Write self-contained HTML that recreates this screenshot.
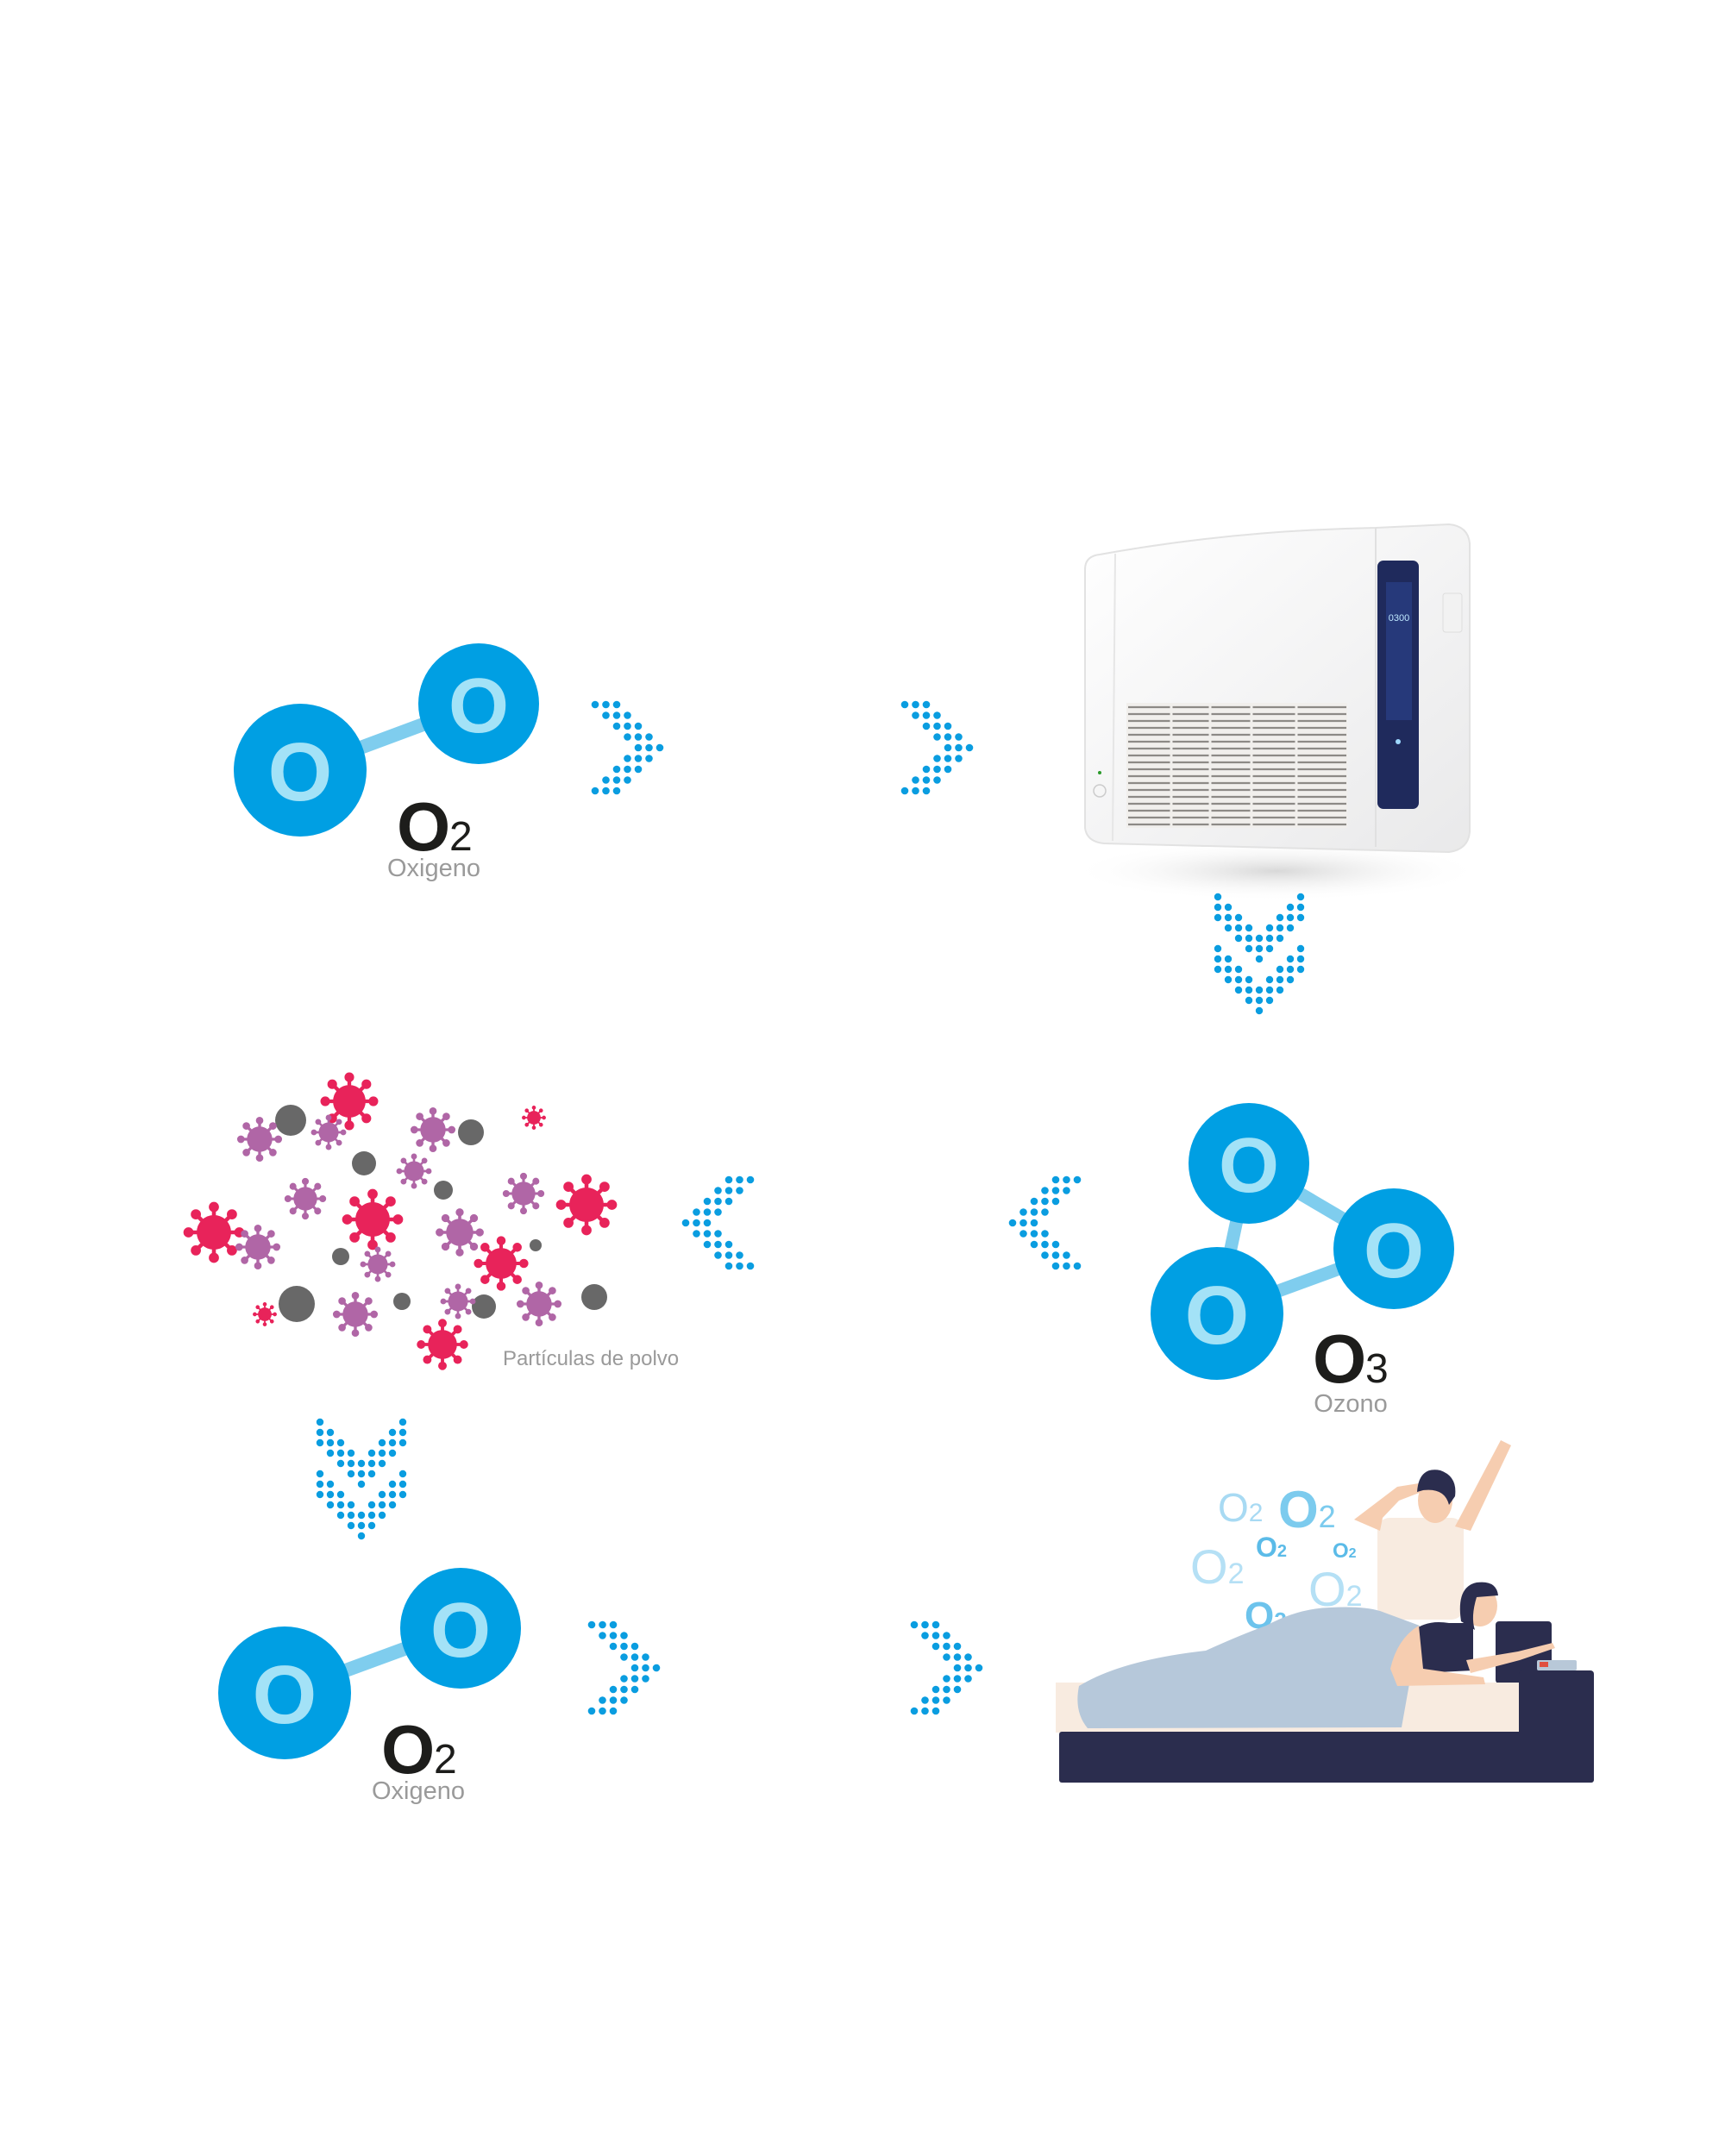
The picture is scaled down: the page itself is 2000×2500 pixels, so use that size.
<!DOCTYPE html>
<html><head><meta charset="utf-8"><style>html,body{margin:0;padding:0;background:#fff}svg{display:block}</style></head>
<body>
<svg width="2000" height="2500" viewBox="0 0 2000 2500" xmlns="http://www.w3.org/2000/svg">
<defs>
<g id="chr" fill="#0a9de0">
<circle cx="0" cy="0" r="4.3"/><circle cx="12.5" cy="0" r="4.3"/><circle cx="25" cy="0" r="4.3"/>
<circle cx="12.5" cy="12.5" r="4.3"/><circle cx="25" cy="12.5" r="4.3"/><circle cx="37.5" cy="12.5" r="4.3"/>
<circle cx="25" cy="25" r="4.3"/><circle cx="37.5" cy="25" r="4.3"/><circle cx="50" cy="25" r="4.3"/>
<circle cx="37.5" cy="37.5" r="4.3"/><circle cx="50" cy="37.5" r="4.3"/><circle cx="62.5" cy="37.5" r="4.3"/>
<circle cx="50" cy="50" r="4.3"/><circle cx="62.5" cy="50" r="4.3"/><circle cx="75" cy="50" r="4.3"/>
<circle cx="37.5" cy="62.5" r="4.3"/><circle cx="50" cy="62.5" r="4.3"/><circle cx="62.5" cy="62.5" r="4.3"/>
<circle cx="25" cy="75" r="4.3"/><circle cx="37.5" cy="75" r="4.3"/><circle cx="50" cy="75" r="4.3"/>
<circle cx="12.5" cy="87.5" r="4.3"/><circle cx="25" cy="87.5" r="4.3"/><circle cx="37.5" cy="87.5" r="4.3"/>
<circle cx="0" cy="100" r="4.3"/><circle cx="12.5" cy="100" r="4.3"/><circle cx="25" cy="100" r="4.3"/>
</g>
<g id="chd" fill="#0a9de0">
<circle cx="0" cy="0" r="4.2"/><circle cx="96" cy="0" r="4.2"/>
<circle cx="0" cy="12" r="4.2"/><circle cx="12" cy="12" r="4.2"/><circle cx="84" cy="12" r="4.2"/><circle cx="96" cy="12" r="4.2"/>
<circle cx="0" cy="24" r="4.2"/><circle cx="12" cy="24" r="4.2"/><circle cx="24" cy="24" r="4.2"/><circle cx="72" cy="24" r="4.2"/><circle cx="84" cy="24" r="4.2"/><circle cx="96" cy="24" r="4.2"/>
<circle cx="12" cy="36" r="4.2"/><circle cx="24" cy="36" r="4.2"/><circle cx="36" cy="36" r="4.2"/><circle cx="60" cy="36" r="4.2"/><circle cx="72" cy="36" r="4.2"/><circle cx="84" cy="36" r="4.2"/>
<circle cx="24" cy="48" r="4.2"/><circle cx="36" cy="48" r="4.2"/><circle cx="48" cy="48" r="4.2"/><circle cx="60" cy="48" r="4.2"/><circle cx="72" cy="48" r="4.2"/>
<circle cx="0" cy="60" r="4.2"/><circle cx="36" cy="60" r="4.2"/><circle cx="48" cy="60" r="4.2"/><circle cx="60" cy="60" r="4.2"/><circle cx="96" cy="60" r="4.2"/>
<circle cx="0" cy="72" r="4.2"/><circle cx="12" cy="72" r="4.2"/><circle cx="48" cy="72" r="4.2"/><circle cx="84" cy="72" r="4.2"/><circle cx="96" cy="72" r="4.2"/>
<circle cx="0" cy="84" r="4.2"/><circle cx="12" cy="84" r="4.2"/><circle cx="24" cy="84" r="4.2"/><circle cx="72" cy="84" r="4.2"/><circle cx="84" cy="84" r="4.2"/><circle cx="96" cy="84" r="4.2"/>
<circle cx="12" cy="96" r="4.2"/><circle cx="24" cy="96" r="4.2"/><circle cx="36" cy="96" r="4.2"/><circle cx="60" cy="96" r="4.2"/><circle cx="72" cy="96" r="4.2"/><circle cx="84" cy="96" r="4.2"/>
<circle cx="24" cy="108" r="4.2"/><circle cx="36" cy="108" r="4.2"/><circle cx="48" cy="108" r="4.2"/><circle cx="60" cy="108" r="4.2"/><circle cx="72" cy="108" r="4.2"/>
<circle cx="36" cy="120" r="4.2"/><circle cx="48" cy="120" r="4.2"/><circle cx="60" cy="120" r="4.2"/>
<circle cx="48" cy="132" r="4.2"/>
</g>
<g id="vshape">
<g stroke-width="2.4">
<line x1="0" y1="0" x2="15.5" y2="0"/><line x1="0" y1="0" x2="11" y2="11"/><line x1="0" y1="0" x2="0" y2="15.5"/><line x1="0" y1="0" x2="-11" y2="11"/>
<line x1="0" y1="0" x2="-15.5" y2="0"/><line x1="0" y1="0" x2="-11" y2="-11"/><line x1="0" y1="0" x2="0" y2="-15.5"/><line x1="0" y1="0" x2="11" y2="-11"/>
</g>
<circle r="10"/>
<circle cx="15.5" cy="0" r="2.6"/><circle cx="11" cy="11" r="2.6"/><circle cx="0" cy="15.5" r="2.6"/><circle cx="-11" cy="11" r="2.6"/>
<circle cx="-15.5" cy="0" r="2.6"/><circle cx="-11" cy="-11" r="2.6"/><circle cx="0" cy="-15.5" r="2.6"/><circle cx="11" cy="-11" r="2.6"/>
</g>
<g id="vr" fill="#e8235a" stroke="#e8235a"><use href="#vshape"/></g>
<g id="vp" fill="#b066a6" stroke="#b066a6"><use href="#vshape"/></g>
<linearGradient id="dev" x1="0" y1="0" x2="1" y2="1"><stop offset="0" stop-color="#ffffff"/><stop offset="1" stop-color="#e9e9ea"/></linearGradient>
<radialGradient id="shd" cx="0.5" cy="0.5" r="0.5"><stop offset="0" stop-color="#d8d8d8"/><stop offset="1" stop-color="#ffffff" stop-opacity="0"/></radialGradient>
</defs>

<!-- top O2 molecule -->
<line x1="348" y1="893" x2="555" y2="816" stroke="#7fcdee" stroke-width="16"/>
<circle cx="348" cy="893" r="77" fill="#009fe3"/>
<circle cx="555" cy="816" r="70" fill="#009fe3"/>
<g font-family="Liberation Sans, sans-serif" fill="#a3e2f7" text-anchor="middle" font-weight="bold">
<text x="348" y="928" font-size="96">O</text>
<text x="555" y="849" font-size="90">O</text>
</g>
<text x="460" y="986" font-family="Liberation Sans, sans-serif" font-size="80" font-weight="bold" fill="#1d1d1b">O</text>
<text x="521" y="986" font-family="Liberation Sans, sans-serif" font-size="48" fill="#1d1d1b">2</text>
<text x="503" y="1016" font-family="Liberation Sans, sans-serif" font-size="29" fill="#9a9a9a" text-anchor="middle">Oxigeno</text>

<use href="#chr" x="690" y="817"/>
<use href="#chr" x="1049" y="817"/>

<!-- device -->
<ellipse cx="1480" cy="1010" rx="240" ry="35" fill="url(#shd)"/>
<path d="M1258 660 Q1258 645 1275 643 Q1430 615 1595 612 L1680 608 Q1702 610 1704 630 L1704 965 Q1702 985 1680 988 L1280 978 Q1260 976 1258 960 Z" fill="url(#dev)" stroke="#e2e2e2" stroke-width="2"/>
<line x1="1293" y1="642" x2="1290" y2="975" stroke="#e6e6e6" stroke-width="2"/>
<line x1="1595" y1="612" x2="1595" y2="982" stroke="#e0e0e0" stroke-width="2"/>
<rect x="1306" y="815" width="256" height="145" fill="#f1efec"/>
<g stroke="#8d8a86" stroke-width="2.2">
<line x1="1308" y1="820" x2="1561" y2="820"/><line x1="1308" y1="828" x2="1561" y2="828"/><line x1="1308" y1="836" x2="1561" y2="836"/><line x1="1308" y1="844" x2="1561" y2="844"/><line x1="1308" y1="852" x2="1561" y2="852"/><line x1="1308" y1="860" x2="1561" y2="860"/><line x1="1308" y1="868" x2="1561" y2="868"/><line x1="1308" y1="876" x2="1561" y2="876"/><line x1="1308" y1="884" x2="1561" y2="884"/><line x1="1308" y1="892" x2="1561" y2="892"/><line x1="1308" y1="900" x2="1561" y2="900"/><line x1="1308" y1="908" x2="1561" y2="908"/><line x1="1308" y1="916" x2="1561" y2="916"/><line x1="1308" y1="924" x2="1561" y2="924"/><line x1="1308" y1="932" x2="1561" y2="932"/><line x1="1308" y1="940" x2="1561" y2="940"/><line x1="1308" y1="948" x2="1561" y2="948"/><line x1="1308" y1="956" x2="1561" y2="956"/>
</g>
<g stroke="#f1efec" stroke-width="3"><line x1="1358" y1="815" x2="1358" y2="960"/><line x1="1403" y1="815" x2="1403" y2="960"/><line x1="1451" y1="815" x2="1451" y2="960"/><line x1="1503" y1="815" x2="1503" y2="960"/></g>
<rect x="1597" y="650" width="48" height="288" rx="7" fill="#1f2a5c"/>
<rect x="1607" y="675" width="30" height="160" fill="#26397a"/>
<text x="1622" y="720" font-family="Liberation Sans, sans-serif" font-size="11" fill="#bfe8ff" text-anchor="middle">0300</text>
<circle cx="1621" cy="860" r="3" fill="#9ed8ff"/>
<circle cx="1275" cy="896" r="2" fill="#2a9a2a"/>
<circle cx="1275" cy="917" r="7" fill="none" stroke="#ccc" stroke-width="1.5"/>
<rect x="1673" y="688" width="22" height="45" rx="3" fill="#f2f2f2" stroke="#ddd"/>

<use href="#chd" x="1412" y="1040"/>

<!-- particles -->
<g fill="#686868">
<circle cx="337" cy="1299" r="18"/><circle cx="546" cy="1313" r="15"/><circle cx="422" cy="1349" r="14"/><circle cx="514" cy="1380" r="11"/><circle cx="621" cy="1444" r="7"/><circle cx="395" cy="1457" r="10"/><circle cx="344" cy="1512" r="21"/><circle cx="466" cy="1509" r="10"/><circle cx="561" cy="1515" r="14"/><circle cx="689" cy="1504" r="15"/>
</g>
<use href="#vr" transform="translate(405,1277) scale(1.8)"/>
<use href="#vr" transform="translate(248,1429) scale(1.9)"/>
<use href="#vr" transform="translate(432,1414) scale(1.9)"/>
<use href="#vr" transform="translate(680,1397) scale(1.9)"/>
<use href="#vr" transform="translate(581,1465) scale(1.7)"/>
<use href="#vr" transform="translate(513,1559) scale(1.6)"/>
<use href="#vr" transform="translate(619,1296) scale(0.75)"/>
<use href="#vr" transform="translate(307,1524) scale(0.75)"/>
<use href="#vp" transform="translate(301,1321) scale(1.4)"/>
<use href="#vp" transform="translate(381,1313) scale(1.1)"/>
<use href="#vp" transform="translate(502,1310) scale(1.4)"/>
<use href="#vp" transform="translate(480,1358) scale(1.1)"/>
<use href="#vp" transform="translate(354,1390) scale(1.3)"/>
<use href="#vp" transform="translate(607,1384) scale(1.3)"/>
<use href="#vp" transform="translate(299,1446) scale(1.4)"/>
<use href="#vp" transform="translate(533,1429) scale(1.5)"/>
<use href="#vp" transform="translate(438,1466) scale(1.1)"/>
<use href="#vp" transform="translate(412,1524) scale(1.4)"/>
<use href="#vp" transform="translate(531,1509) scale(1.1)"/>
<use href="#vp" transform="translate(625,1512) scale(1.4)"/>
<text x="583" y="1583" font-family="Liberation Sans, sans-serif" font-size="24" fill="#9a9a9a">Partículas de polvo</text>

<use href="#chr" transform="translate(870,1368) scale(-1,1)"/>
<use href="#chr" transform="translate(1249,1368) scale(-1,1)"/>

<!-- O3 -->
<g stroke="#7fcdee" stroke-width="15"><line x1="1448" y1="1349" x2="1616" y2="1448"/><line x1="1448" y1="1349" x2="1411" y2="1523"/><line x1="1411" y1="1523" x2="1616" y2="1448"/></g>
<circle cx="1448" cy="1349" r="70" fill="#009fe3"/>
<circle cx="1616" cy="1448" r="70" fill="#009fe3"/>
<circle cx="1411" cy="1523" r="77" fill="#009fe3"/>
<g font-family="Liberation Sans, sans-serif" fill="#a3e2f7" text-anchor="middle" font-weight="bold">
<text x="1448" y="1382" font-size="90">O</text>
<text x="1616" y="1481" font-size="90">O</text>
<text x="1411" y="1558" font-size="96">O</text>
</g>
<text x="1522" y="1603" font-family="Liberation Sans, sans-serif" font-size="80" font-weight="bold" fill="#1d1d1b">O</text>
<text x="1583" y="1603" font-family="Liberation Sans, sans-serif" font-size="48" fill="#1d1d1b">3</text>
<text x="1566" y="1637" font-family="Liberation Sans, sans-serif" font-size="29" fill="#9a9a9a" text-anchor="middle">Ozono</text>

<use href="#chd" x="371" y="1649"/>

<!-- bottom O2 -->
<line x1="330" y1="1963" x2="534" y2="1888" stroke="#7fcdee" stroke-width="16"/>
<circle cx="330" cy="1963" r="77" fill="#009fe3"/>
<circle cx="534" cy="1888" r="70" fill="#009fe3"/>
<g font-family="Liberation Sans, sans-serif" fill="#a3e2f7" text-anchor="middle" font-weight="bold">
<text x="330" y="1998" font-size="96">O</text>
<text x="534" y="1921" font-size="90">O</text>
</g>
<text x="442" y="2056" font-family="Liberation Sans, sans-serif" font-size="80" font-weight="bold" fill="#1d1d1b">O</text>
<text x="503" y="2056" font-family="Liberation Sans, sans-serif" font-size="48" fill="#1d1d1b">2</text>
<text x="485" y="2086" font-family="Liberation Sans, sans-serif" font-size="29" fill="#9a9a9a" text-anchor="middle">Oxigeno</text>

<use href="#chr" x="686" y="1884"/>
<use href="#chr" x="1060" y="1884"/>

<!-- bed scene -->
<g font-family="Liberation Sans, sans-serif">
<text x="1412" y="1764" font-size="46" fill="#a8daf3">O<tspan font-size="30">2</tspan></text>
<text x="1482" y="1771" font-size="60" font-weight="bold" fill="#7ccbee">O<tspan font-size="36" font-weight="normal">2</tspan></text>
<text x="1456" y="1805" font-size="32" font-weight="bold" fill="#5bbbe8">O<tspan font-size="20">2</tspan></text>
<text x="1545" y="1806" font-size="24" font-weight="bold" fill="#5bbbe8">O<tspan font-size="16">2</tspan></text>
<text x="1380" y="1836" font-size="56" fill="#b5e0f5">O<tspan font-size="34">2</tspan></text>
<text x="1517" y="1862" font-size="56" fill="#b5e0f5">O<tspan font-size="34">2</tspan></text>
<text x="1443" y="1888" font-size="44" font-weight="bold" fill="#6cc3ec">O<tspan font-size="26">2</tspan></text>
</g>
<rect x="1597" y="1760" width="100" height="118" rx="14" fill="#f8ebe0"/>
<path d="M1687 1770 L1740 1670 L1752 1676 L1705 1775 Z" fill="#f6cdb0"/>
<path d="M1600 1775 L1570 1762 L1620 1724 L1645 1720 L1648 1730 L1622 1740 L1603 1760 Z" fill="#f6cdb0"/>
<ellipse cx="1664" cy="1740" rx="20" ry="26" fill="#f6cdb0"/>
<path d="M1643 1730 Q1645 1700 1670 1705 Q1690 1712 1687 1735 L1680 1745 Q1675 1725 1650 1728 Z" fill="#2b2d4e"/>
<rect x="1734" y="1880" width="65" height="72" rx="4" fill="#2b2d4e"/>
<rect x="1224" y="1951" width="540" height="58" fill="#f8ebe0"/>
<rect x="1228" y="2008" width="620" height="59" rx="3" fill="#2b2d4e"/>
<rect x="1761" y="1937" width="87" height="130" rx="4" fill="#2b2d4e"/>
<rect x="1782" y="1925" width="46" height="12" rx="2" fill="#b8c8d8"/>
<rect x="1785" y="1927" width="10" height="6" fill="#e05040"/>
<path d="M1251 1955 Q1300 1925 1398 1914 Q1440 1895 1468 1885 Q1505 1865 1542 1864 Q1580 1862 1600 1868 L1646 1885 L1625 2003 L1261 2004 Q1245 1985 1251 1955 Z" fill="#b6c8da"/>
<path d="M1640 1890 Q1655 1878 1680 1882 L1708 1882 L1708 1937 L1645 1940 Z" fill="#2b2d4e"/>
<path d="M1612 1935 Q1620 1900 1645 1885 L1650 1935 L1720 1945 L1722 1953 L1620 1955 Z" fill="#f6cdb0"/>
<path d="M1700 1925 L1760 1915 L1800 1905 L1803 1911 L1762 1925 L1705 1940 Z" fill="#f6cdb0"/>
<ellipse cx="1716" cy="1862" rx="20" ry="24" fill="#f6cdb0"/>
<path d="M1694 1880 Q1688 1840 1712 1835 Q1735 1832 1737 1850 L1712 1852 Q1705 1875 1710 1890 Z" fill="#2b2d4e"/>
</svg>
</body></html>
